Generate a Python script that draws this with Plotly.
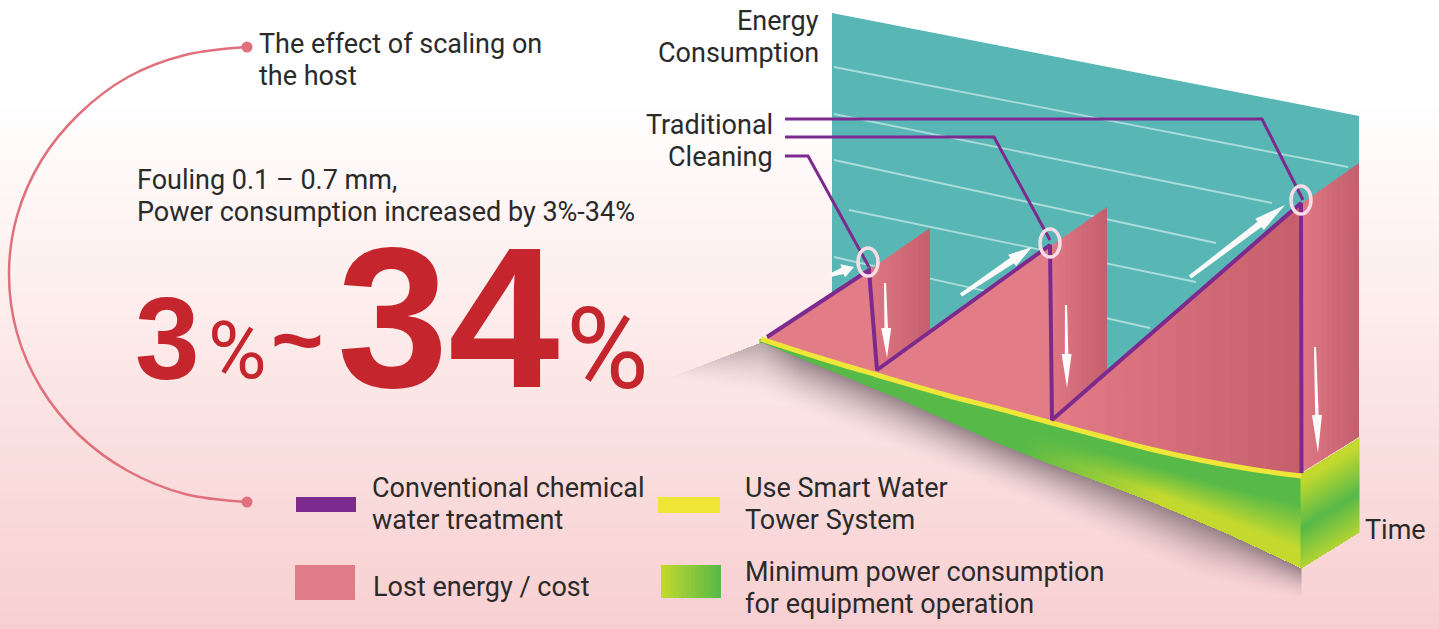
import numpy as np
import plotly.graph_objects as go

W, H = 1439, 629
# ---- values (canvas units) ----
BG_STOPS_Y = [0, 100, 200, 300, 450, 629]
BG_COLORS = ["#ffffff", "#ffffff", "#fef6f5", "#fdeeed", "#fadfdf", "#f8cfd1"]

WALL_X = [832, 1359, 1359, 1108, 930, 832]
WALL_Y = [13, 116, 300, 400, 345, 310]
GRID_LINES = [
    ((834, 1348), (67, 167)),
    ((834, 1272), (114, 203)),
    ((834, 1216), (160, 243)),
    ((849, 1196), (210, 282)),
    ((834, 1150), (257, 328)),
]
SAW_X = [767, 869, 877, 1050, 1052, 1301, 1301.5]
SAW_Y = [337, 270, 370, 245, 420, 203, 473]
BASE_X = [761, 820, 877, 946, 1000, 1052, 1100, 1150, 1200, 1250, 1301.5]
BASE_Y = [339, 358, 375, 395, 409, 423, 436, 449, 460, 469, 476]
FLOOR_X = [761, 895, 1000, 1048, 1100, 1150, 1226, 1301.5]
FLOOR_Y = [342, 397, 444, 463, 482, 501, 533, 568]
SIDE_X = [1301, 1359]
SIDE_TOP = [473, 437]
SIDE_BOT = [568, 532]
FIN_TOPS = [((862, 930), (275, 228)), ((1045, 1107), (250, 207)), ((1295, 1359), (208, 163))]
FIN_BOTS = [((862, 877, 930), (362, 368, 338)),
            ((1045, 1052, 1107), (412, 418, 375)),
            ((1295, 1301, 1359), (468, 473, 437))]
SHADOW_TOP_X = [670, 761, 895, 1000, 1048, 1100, 1150, 1226, 1301]
SHADOW_TOP_Y = [377, 342, 397, 444, 463, 482, 501, 533, 568]
SHADOW_BOT_X = [670, 760, 900, 1050, 1200, 1301]
SHADOW_BOT_Y = [378, 395, 450, 510, 580, 600]
CALLOUTS = [
    ([785, 1262, 1303], [119, 119, 200]),
    ([785, 994, 1050], [137, 137, 240]),
    ([785, 808, 869], [156, 156, 267]),
]
RINGS = [(868, 262, 10, 14), (1050, 243, 10, 14), (1301, 200, 10, 14)]
UP_ARROWS = [((831, 854), (275, 267)), ((961, 1032), (295, 247)), ((1190, 1285), (277, 205))]
DOWN_ARROWS = [((885, 887), (283, 358)), ((1066, 1067), (305, 388)), ((1315, 1318), (347, 453))]
ARC_X = [247, 185, 128, 79, 41, 17, 9, 17, 41, 79, 128, 185, 247]
ARC_Y = [47, 55, 77, 114, 161, 216, 274, 333, 388, 435, 471, 494, 502]
ARC_DOTS_X = [247, 247]
ARC_DOTS_Y = [47, 502]
TEXTS = [
    ("The effect of scaling on", 257, 44, "left"),
    ("the host", 257, 76, "left"),
    ("Fouling 0.1 – 0.7 mm,", 135, 180, "left"),
    ("Power consumption increased by 3%-34%", 135, 212, "left"),
    ("Energy", 821, 21, "right"),
    ("Consumption", 821, 53, "right"),
    ("Traditional", 775, 125, "right"),
    ("Cleaning", 775, 157, "right"),
    ("Conventional chemical", 370, 488, "left"),
    ("water treatment", 370, 520, "left"),
    ("Lost energy / cost", 371, 587, "left"),
    ("Use Smart Water", 743, 488, "left"),
    ("Tower System", 743, 520, "left"),
    ("Minimum power consumption", 743, 572, "left"),
    ("for equipment operation", 743, 604, "left"),
    ("Time", 1363, 530, "left"),
]
BIG_TEXTS = [
    ("3", 167, 339, 116, "Liberation Sans", True),
    ("%", 237, 351, 80, "Roboto", False),
    ("~", 297, 340, 90, "Liberation Sans", True),
    ("34", 448, 317, 200, "Liberation Sans", True),
    ("%", 607, 349, 113, "Roboto", False),
]
SWATCHES = [
    (296, 356, 497, 512, "#7d2a8e"),
    (295, 355, 565, 600, "#e07c88"),
    (658, 720, 497, 513, "#efe637"),
]
SWATCH_GRAD = (661, 721, 565, 598)

PINK_L, PINK_R = "#e27c87", "#c65f6d"
GREEN, LIME = "#56b948", "#c4d92e"
PURPLE = "#7d2a8e"
TEXT = "#2a2a2a"
RED = "#c5252c"


def rgb(h):
    return np.array([int(h[i:i + 2], 16) for i in (1, 3, 5)], float)


def mix(a, b, t):
    c = rgb(a) * (1 - t) + rgb(b) * t
    return "rgb(%d,%d,%d)" % tuple(c)


fig = go.Figure()


def poly(x, y, color):
    fig.add_trace(go.Scatter(x=list(x), y=list(y), mode="lines", fill="toself",
                             fillcolor=color, line=dict(width=0), hoverinfo="skip",
                             showlegend=False))


def line(x, y, color, width, shape="linear"):
    fig.add_trace(go.Scatter(x=list(x), y=list(y), mode="lines",
                             line=dict(color=color, width=width, shape=shape),
                             hoverinfo="skip", showlegend=False))


def bands(tx, ty, bx, by, c0, c1, n, x0=None, x1=None):
    """Fill between two outlines, shaded left to right in n colour bands."""
    x0 = tx[0] if x0 is None else x0
    x1 = tx[-1] if x1 is None else x1
    edges = np.linspace(x0, x1, n + 1)
    for i in range(n):
        a, b = edges[i], min(edges[i + 1] + 0.7, x1)
        xs = sorted({a, b} | {v for v in tx if a < v < b} | {v for v in bx if a < v < b})
        top = np.interp(xs, tx, ty)
        bot = np.interp(xs, bx, by)
        t = (i + 0.5) / n
        poly(list(xs) + list(xs)[::-1], list(top) + list(bot)[::-1], mix(c0, c1, t))


# background
rows = np.arange(0, H + 3, 3)
stops = [s / H for s in BG_STOPS_Y]
fig.add_trace(go.Heatmap(x=[0, W], y=rows, z=np.column_stack([rows, rows]), zmin=0, zmax=H,
                         colorscale=list(zip(stops, BG_COLORS)), showscale=False,
                         hoverinfo="skip", zsmooth="best"))

# soft shadow
sx = np.arange(670, 1302, 1)
sy = np.arange(335, 610, 1)
XX, YY = np.meshgrid(sx, sy)
st = np.interp(XX, SHADOW_TOP_X, SHADOW_TOP_Y)
sb = np.interp(XX, SHADOW_BOT_X, SHADOW_BOT_Y)
tt = (YY - st) / np.maximum(sb - st, 1)
alpha = np.round(np.clip(1 - tt, 0, 1) ** 1.6 * np.clip((XX - 670) / 130, 0, 1), 3)
alpha[(tt < 0) | (tt > 1)] = np.nan
fig.add_trace(go.Heatmap(x=sx, y=sy, z=alpha, zmin=0, zmax=1, showscale=False, hoverinfo="skip",
                         colorscale=[[0, "rgba(120,100,110,0)"], [1, "rgba(120,100,110,0.75)"]]))

# wall
poly(WALL_X, WALL_Y, "#58b7b5")
for gx, gy in GRID_LINES:
    line(gx, gy, "rgba(215,240,238,0.65)", 1.8)

# pink fins and sawtooth
for (tx, ty), (bx, by) in zip(FIN_TOPS, FIN_BOTS):
    bands(list(tx), list(ty), list(bx), list(by), PINK_L, PINK_R, 12)
bands(SAW_X, SAW_Y, BASE_X, BASE_Y, PINK_L, PINK_L, 1, x0=767, x1=1052)
bands(SAW_X, SAW_Y, BASE_X, BASE_Y, PINK_L, PINK_R, 14, x0=1052, x1=1301.5)

# green front face
gx = np.arange(760, 1303, 1)
gy = np.arange(335, 572, 1)
GX, GY = np.meshgrid(gx, gy)
gt = np.interp(GX, BASE_X, BASE_Y)
gb = np.interp(GX, FLOOR_X, FLOOR_Y)
front = (GY - gt) / np.maximum(gb - gt, 1)
zf = np.round(np.clip((front - 0.3) / 0.5, 0, 1) * np.clip((GX - 1000 + (GY - 480) * 0.6) / 170, 0, 1), 3)
zf[(front < -0.05) | (front > 1)] = np.nan
gscale = [[0, GREEN], [1, LIME]]
fig.add_trace(go.Heatmap(x=gx, y=gy, z=zf, zmin=0, zmax=1, colorscale=gscale, showscale=False,
                         hoverinfo="skip"))
# green side face
hx = np.arange(SIDE_X[0], SIDE_X[1] + 1, 1)
hy = np.arange(435, 570, 1)
HX, HY = np.meshgrid(hx, hy)
ht = np.interp(HX, SIDE_X, SIDE_TOP)
hb = np.interp(HX, SIDE_X, SIDE_BOT)
side = (HY - ht) / (hb - ht)
zs = np.round(np.clip(np.abs(side - 0.58) / 0.5, 0, 1), 3)
zs[(side < 0) | (side > 1)] = np.nan
fig.add_trace(go.Heatmap(x=hx, y=hy, z=zs, zmin=0, zmax=1, colorscale=gscale, showscale=False,
                         hoverinfo="skip"))

# yellow base line
line(BASE_X, BASE_Y, "#f0e63a", 5, "spline")
# purple lines
line(SAW_X, SAW_Y, PURPLE, 4)
for cx, cy in CALLOUTS:
    line(cx, cy, PURPLE, 3)


def arrow(xs, ys, head_len, head_w, shaft):
    p0 = np.array([xs[0], ys[0]], float)
    p1 = np.array([xs[1], ys[1]], float)
    d = (p1 - p0) / np.linalg.norm(p1 - p0)
    n = np.array([-d[1], d[0]])
    neck = p1 - d * head_len
    pts = [p0 + n * shaft * 0.3, neck + n * shaft * 0.5, neck + n * head_w, p1,
           neck - n * head_w, neck - n * shaft * 0.5, p0 - n * shaft * 0.3]
    poly([q[0] for q in pts], [q[1] for q in pts], "#fdfafa")


for (ax, ay), hl in zip(UP_ARROWS, (12, 24, 32)):
    arrow(ax, ay, hl, 7, 6.5)
for (ax, ay), hl in zip(DOWN_ARROWS, (30, 34, 38)):
    arrow(ax, ay, hl, 5, 3.5)

# arc
line(ARC_X, ARC_Y, "#e0707c", 2.5, "spline")
fig.add_trace(go.Scatter(x=ARC_DOTS_X, y=ARC_DOTS_Y, mode="markers",
                         marker=dict(size=11, color="#e0707c"), hoverinfo="skip", showlegend=False))

# legend swatches
for x0, x1, y0, y1, c in SWATCHES:
    poly([x0, x1, x1, x0], [y0, y0, y1, y1], c)
gx0, gx1, gy0, gy1 = SWATCH_GRAD
bands([gx0, gx1], [gy0, gy0], [gx0, gx1], [gy1, gy1], LIME, GREEN, 14)

shapes = [dict(type="circle", xref="x", yref="y", x0=cx - rx, x1=cx + rx, y0=cy - ry, y1=cy + ry,
               line=dict(color="#f8dde6", width=3.5), layer="above")
          for cx, cy, rx, ry in RINGS]

ann = []
for t, x, y, a in TEXTS:
    ann.append(dict(text=t, x=x, y=y, xref="x", yref="y", xanchor=a, yanchor="middle", showarrow=False,
                    font=dict(family="Roboto", size=27, color=TEXT)))
for t, x, y, s, f, b in BIG_TEXTS:
    ann.append(dict(text="<b>%s</b>" % t if b else t, x=x, y=y, xref="x", yref="y", xanchor="center",
                    yanchor="middle", showarrow=False, height=int(s * 0.8),
                    font=dict(family=f, size=s, color=RED)))

fig.update_layout(width=W, height=H, margin=dict(l=0, r=0, t=0, b=0), plot_bgcolor="#ffffff",
                  paper_bgcolor="#ffffff", showlegend=False, shapes=shapes, annotations=ann,
                  xaxis=dict(range=[0, W], visible=False, fixedrange=True),
                  yaxis=dict(range=[H, 0], visible=False, fixedrange=True))
fig.write_html("out.html", config=dict(displayModeBar=False),
               post_script="document.body.style.margin='0';document.body.style.overflow='hidden';")
